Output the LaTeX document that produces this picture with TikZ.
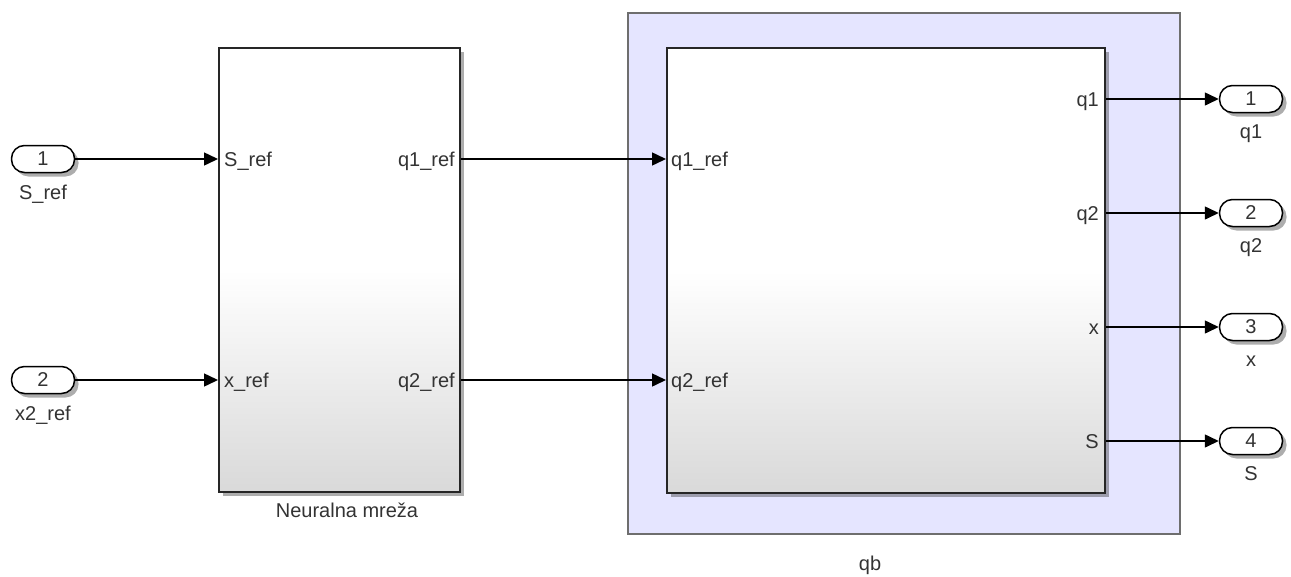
\documentclass[tikz,border=0pt]{standalone}
\usepackage{fontspec}
\setmainfont{Liberation Sans}
\usetikzlibrary{positioning,arrows.meta,shadows}
\definecolor{slgray}{RGB}{217,217,217}
\definecolor{sllav}{RGB}{229,229,255}
\definecolor{slframe}{RGB}{110,110,110}
\definecolor{sltext}{RGB}{51,51,51}

\begin{document}
\begin{tikzpicture}[x=1pt,y=-1pt,
  font=\fontsize{20}{24}\selectfont,
  slshadow/.style={drop shadow={shadow xshift=4pt,shadow yshift=-4pt,opacity=0.4,fill=black!80}},
  subsys/.style={draw=black!85,line width=2pt,anchor=north west,inner sep=0pt,
    top color=white,bottom color=slgray,middle color=white,slshadow},
  ioport/.style={draw=black,line width=1.5pt,fill=white,rounded corners=13pt,
    minimum width=63pt,minimum height=27pt,inner sep=0pt,slshadow,text=sltext},
  sig/.style={line width=1.5pt,-{Triangle[length=14pt,width=13pt]}},
  lab/.style={text=sltext,inner sep=0pt}]
  \useasboundingbox (0,0) rectangle (1291,576);

  % masked subsystem area behind qb
  \node[draw=slframe,fill=sllav,line width=1.5pt,anchor=north west,inner sep=0pt,
    minimum width=552pt,minimum height=521pt] (qbarea) at (627,12) {};

  % the two blocks (pixel coordinates, y pointing down)
  \node[subsys,minimum width=241pt,minimum height=444pt] (nn) at (218,47) {};
  \node[subsys,minimum width=438pt,minimum height=445pt] (qb) at (666,47) {};
  \node[lab,anchor=base] (nnlab) at (347,517) {Neuralna mreža};
  \node[lab,anchor=base] (qblab) at (870,570) {qb};

  % inports
  \node[ioport] (in1) at (43,159) {1};
  \node[ioport] (in2) at (43,380) {2};
  \node[lab,anchor=base] (in1lab) at ([yshift=-40pt]in1) {S\_ref};
  \node[lab,anchor=base] (in2lab) at ([yshift=-40pt]in2) {x2\_ref};

  % port names inside the blocks
  \node[lab,anchor=base west] (nnin1) at (224,166) {S\_ref};
  \node[lab,anchor=base west] (nnin2) at (224,387) {x\_ref};
  \node[lab,anchor=base east] (nnout1) at (455,166) {q1\_ref};
  \node[lab,anchor=base east] (nnout2) at (455,387) {q2\_ref};
  \node[lab,anchor=base west] (qbin1) at (671,166) {q1\_ref};
  \node[lab,anchor=base west] (qbin2) at (671,387) {q2\_ref};

  \draw[sig] (in1) -- (in1 -| nn.west);
  \draw[sig] (in2) -- (in2 -| nn.west);
  \draw[sig] (nn.east |- in1) -- (qb.west |- in1);
  \draw[sig] (nn.east |- in2) -- (qb.west |- in2);

  % outports
  \foreach \i/\nm/\yy in {1/q1/99,2/q2/213,3/x/327,4/S/441}{
    \node[ioport] (out\i) at (1251,\yy) {\i};
    \node[lab,anchor=base] (out\i lab) at ([yshift=-39pt]out\i) {\nm};
    \node[lab,anchor=base east] (qbout\i) at (1099,\yy+7) {\nm};
    \draw[sig] (qb.east |- out\i) -- (out\i);
  }
\end{tikzpicture}
\end{document}
